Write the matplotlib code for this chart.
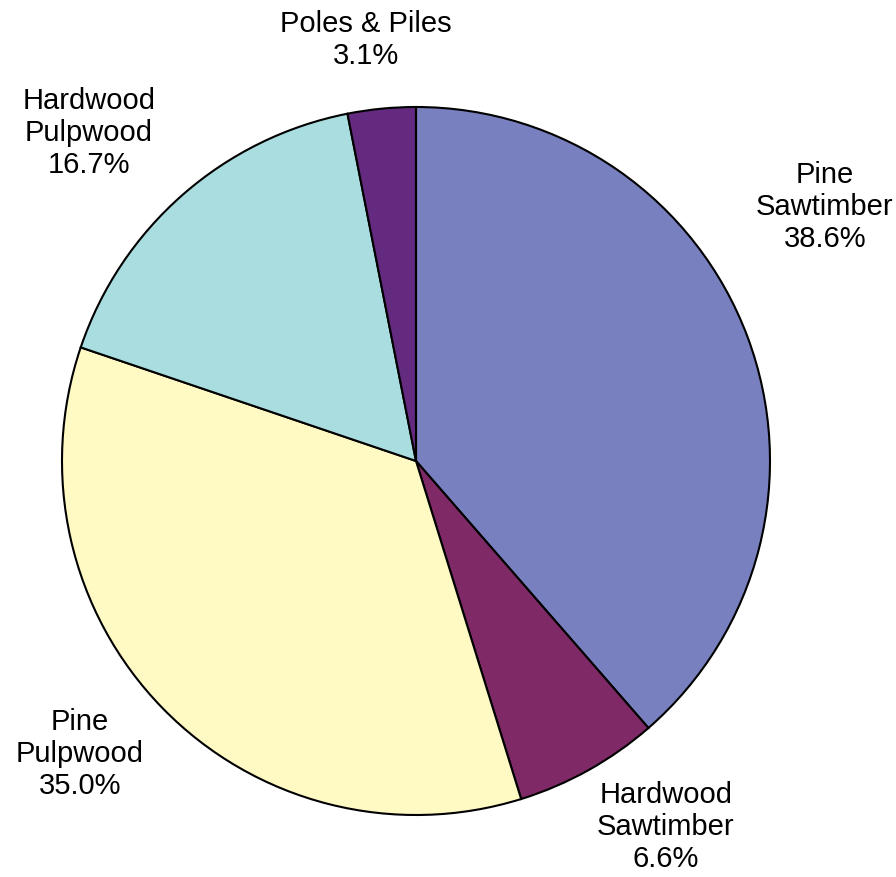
import matplotlib
matplotlib.use('Agg')
import matplotlib.pyplot as plt

# ── Data ────────────────────────────────────────────────────────────
categories = ['Pine\nSawtimber', 'Hardwood\nSawtimber', 'Pine\nPulpwood',
              'Hardwood\nPulpwood', 'Poles & Piles']
shares = [38.6, 6.6, 35.0, 16.7, 3.1]
colors = ['#7880BF', '#7F2A66', '#FFF9C4', '#AADDDF', '#632A80']

# label block centres in pixel coords (x, y from top)
label_pos = [(825, 207), (666, 827), (80, 754), (89, 133), (366, 40)]

W, H = 896, 878
CX, CY, R = 416, 462, 354

plt.rcParams['font.family'] = ['Liberation Sans', 'DejaVu Sans']

fig = plt.figure(figsize=(W / 100, H / 100), dpi=100, facecolor='white')
ax = fig.add_axes([0, 0, 1, 1])

# y axis inverted -> counterclock=True runs clockwise on screen
ax.pie(shares, colors=colors, startangle=-90, counterclock=True,
       center=(CX, CY), radius=R, frame=True,
       wedgeprops=dict(edgecolor='black', linewidth=1.5))
ax.set_xlim(0, W)
ax.set_ylim(H, 0)
ax.set_aspect('equal')
ax.axis('off')

for name, val, (x, y) in zip(categories, shares, label_pos):
    ax.text(x, y, f'{name}\n{val:.1f}%', ha='center', va='center',
            multialignment='center', fontsize=21, linespacing=1.2,
            color='black')

fig.savefig('out.png', dpi=100, facecolor='white')
